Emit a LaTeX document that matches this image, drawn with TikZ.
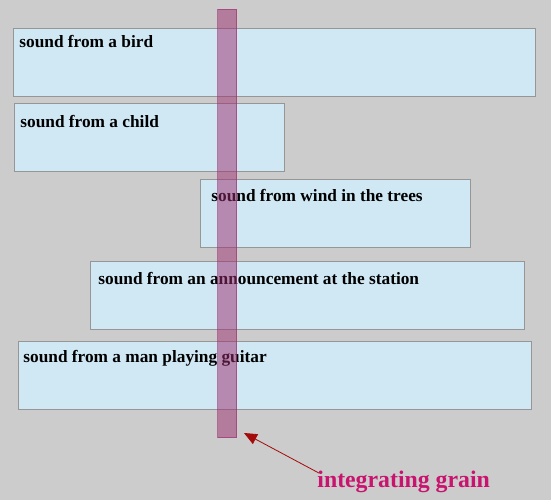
\documentclass[tikz,border=0pt]{standalone}
\usepackage{fontspec}
\setmainfont{Liberation Serif}
\usetikzlibrary{arrows.meta, positioning}

\begin{document}
\begin{tikzpicture}[x=1pt, y=-1pt, thick]

  % Colors
  \definecolor{bggray}{RGB}{204,204,204}
  \definecolor{boxblue}{RGB}{208,231,244}
  \definecolor{boxedge}{RGB}{150,150,150}
  \definecolor{grainpurple}{RGB}{155,45,110}
  \definecolor{arrowred}{RGB}{165,10,10}
  \definecolor{labelpink}{RGB}{200,20,110}

  \tikzset{
    soundbox/.style={draw=boxedge, fill=boxblue, line width=1pt, anchor=north west,
      inner sep=0pt, minimum height=68pt},
    soundtext/.style={anchor=base west, inner sep=0pt, font=\fontsize{17.3}{20}\selectfont\bfseries},
  }

  % Background
  \fill[bggray] (0,0) rectangle (551,500);
  \useasboundingbox (0,0) rectangle (551,500);

  % Sound boxes
  \node[soundbox, minimum width=522pt] (bird) at (13,28) {};
  \node[soundbox, minimum width=270pt] (child) at (14,103) {};
  \node[soundbox, minimum width=270pt] (wind) at (200,179) {};
  \node[soundbox, minimum width=434pt] (station) at (90,261) {};
  \node[soundbox, minimum width=513pt] (guitar) at (18,341) {};

  % Box texts
  \node[soundtext] (birdtext) at ([xshift=6pt, yshift=-20pt]bird.north west) {sound from a bird};
  \node[soundtext] (childtext) at ([xshift=6pt, yshift=-25pt]child.north west) {sound from a child};
  \node[soundtext] (windtext) at ([xshift=11pt, yshift=-22pt]wind.north west) {sound from wind in the trees};
  \node[soundtext] (stationtext) at ([xshift=8pt, yshift=-23pt]station.north west) {sound from an announcement at the station};
  \node[soundtext] (guitartext) at ([xshift=5pt, yshift=-21pt]guitar.north west) {sound from a man playing guitar};

  % Integrating grain bar
  \node[anchor=north west, inner sep=0pt, minimum width=19pt, minimum height=428pt,
    fill=grainpurple, fill opacity=0.5, draw=grainpurple, draw opacity=0.6, line width=1pt] (grain) at (217,9) {};

  % Label and arrow
  \node[anchor=base west, inner sep=0pt, text=labelpink, font=\fontsize{23.8}{27}\selectfont\bfseries]
    (graintext) at (317,487) {integrating grain};
  \coordinate (graintip) at ([xshift=7pt, yshift=5pt]grain.south east);
  \draw[-{Triangle[length=13pt, width=11pt]}, arrowred, line width=0.8pt]
    ([xshift=2pt, yshift=-3pt]graintext.north west) -- (graintip);

\end{tikzpicture}
\end{document}
